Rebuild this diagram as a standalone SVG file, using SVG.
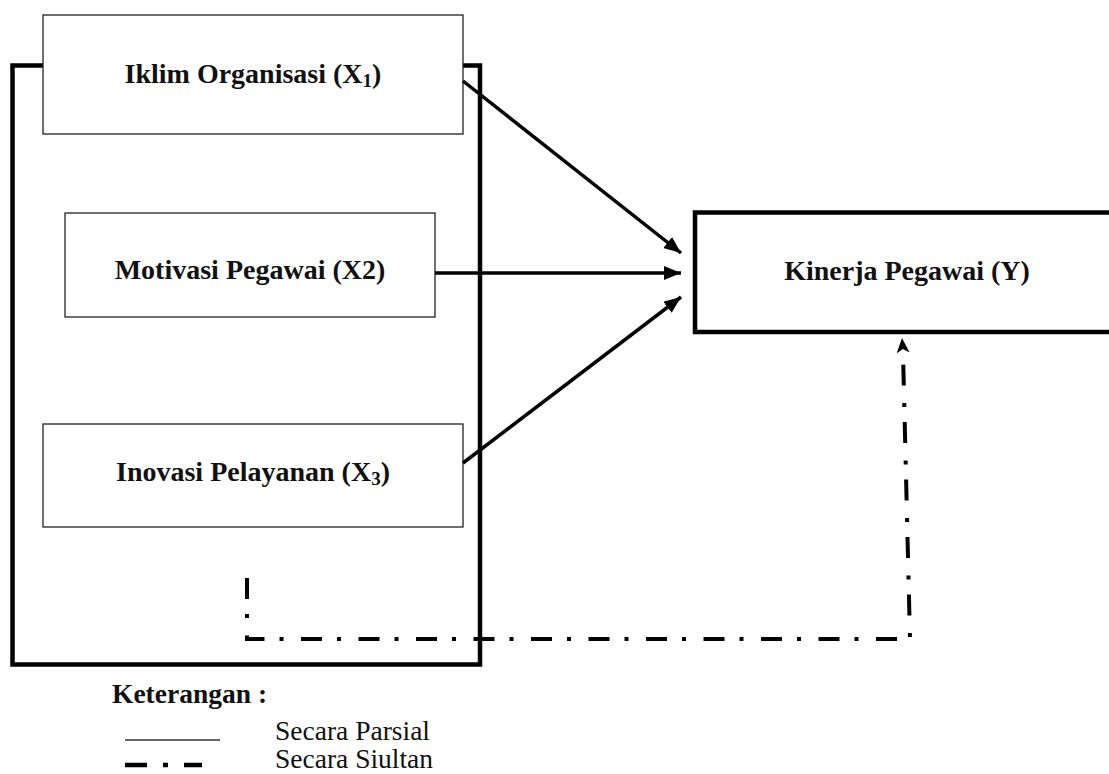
<svg xmlns="http://www.w3.org/2000/svg" width="1109" height="774" viewBox="0 0 1109 774">
<style>
.thin{fill:#fff;stroke:#222;stroke-width:1.3}
.thick{fill:#fff;stroke:#000;stroke-width:4.5}
.lbl{font-family:"Liberation Serif","Times New Roman",serif;font-weight:bold;font-size:28px;fill:#111;text-anchor:middle}
.leg{font-family:"Liberation Serif","Times New Roman",serif;font-size:27.5px;fill:#111}
.arr{stroke:#000;stroke-width:3.5;fill:none}
.dd{stroke:#000;stroke-width:4;fill:none;stroke-dasharray:21 15 4 17.5}
</style>
<defs>
<marker id="ah" markerUnits="userSpaceOnUse" markerWidth="18" markerHeight="16" refX="17" refY="7" orient="auto">
<path d="M0,0 L17,7 L0,14 Z" fill="#000"/>
</marker>
<marker id="ah2" markerUnits="userSpaceOnUse" markerWidth="16" markerHeight="14" refX="15" refY="6.5" orient="auto">
<path d="M0,0 L15,6.5 L0,13 L4,6.5 Z" fill="#000"/>
</marker>
</defs>
<g id="outer-box">
<rect x="12.5" y="65.5" width="467.5" height="599" fill="none" stroke="#000" stroke-width="4.5"/>
</g>
<g id="x1">
<rect class="thin" x="43" y="15" width="420" height="119"/>
<text class="lbl" x="253" y="83">Iklim Organisasi (X<tspan font-size="19" dy="4">1</tspan><tspan dy="-4">)</tspan></text>
</g>
<g id="x2">
<rect class="thin" x="65" y="213" width="370" height="104"/>
<text class="lbl" x="250" y="279">Motivasi Pegawai (X2)</text>
</g>
<g id="x3">
<rect class="thin" x="43" y="424" width="420" height="103"/>
<text class="lbl" x="253" y="481">Inovasi Pelayanan (X<tspan font-size="19" dy="4">3</tspan><tspan dy="-4">)</tspan></text>
</g>
<g id="y">
<rect class="thick" x="695" y="212.5" width="425" height="119.5"/>
<text class="lbl" x="907" y="280">Kinerja Pegawai (Y)</text>
</g>
<g id="connectors">
<line class="arr" x1="463" y1="81" x2="681" y2="253" marker-end="url(#ah)"/>
<line class="arr" x1="435" y1="273" x2="681" y2="273" marker-end="url(#ah)"/>
<line class="arr" x1="463" y1="463" x2="681" y2="297" marker-end="url(#ah)"/>
<path class="dd" d="M247,578 L247,639 L910,639 L903,353"/>
<line x1="903.5" y1="358" x2="902" y2="338" stroke="none" marker-end="url(#ah2)"/>
</g>
<g id="legend">
<text class="leg" x="112" y="703" font-weight="bold">Keterangan :</text>
<line x1="125" y1="740" x2="220" y2="740" stroke="#333" stroke-width="1.5"/>
<text class="leg" x="275" y="740">Secara Parsial</text>
<line x1="125" y1="765" x2="202" y2="765" stroke="#000" stroke-width="4.5" stroke-dasharray="22 16 5 16"/>
<text class="leg" x="275" y="768">Secara Siultan</text>
</g>
</svg>
